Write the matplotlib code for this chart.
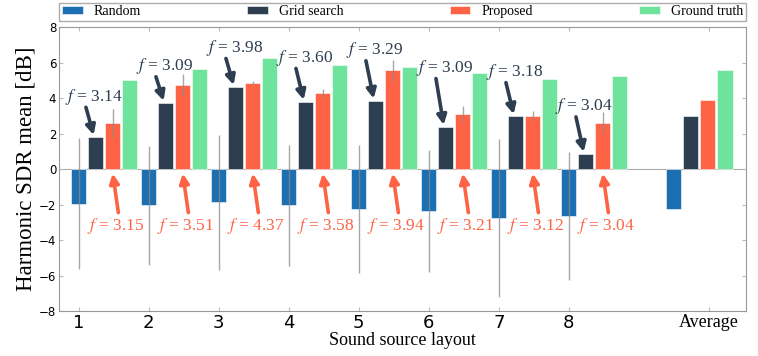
import matplotlib
matplotlib.use('Agg')
import matplotlib.pyplot as plt
import numpy as np

plt.rcParams['mathtext.fontset'] = 'stix'

# data
layouts = ['1', '2', '3', '4', '5', '6', '7', '8', 'Average']
methods = ['Random', 'Grid search', 'Proposed', 'Ground truth']

random_mean = [-1.96, -2.05, -1.86, -2.05, -2.23, -2.35, -2.74, -2.63, -2.23]
random_err = [3.69, 3.33, 3.80, 3.40, 3.60, 3.43, 4.45, 3.62, 0.0]
grid_mean = [1.80, 3.73, 4.62, 3.78, 3.85, 2.37, 2.97, 0.85, 3.00]
prop_mean = [2.59, 4.73, 4.84, 4.28, 5.57, 3.10, 3.01, 2.60, 3.87]
prop_err = [0.80, 0.62, 0.13, 0.22, 0.60, 0.46, 0.29, 0.62, 0.0]
truth_mean = [5.00, 5.66, 6.26, 5.85, 5.77, 5.42, 5.10, 5.26, 5.56]

grid_f = ['3.14', '3.09', '3.98', '3.60', '3.29', '3.09', '3.18', '3.04']
prop_f = ['3.15', '3.51', '4.37', '3.58', '3.94', '3.21', '3.12', '3.04']

# layout only: height of the grid-search labels
grid_label_y = [4.08, 5.80, 6.83, 6.27, 6.70, 5.70, 5.47, 3.54]

colors = ['#1c6fb0', '#2c3e50', '#fe6346', '#6ee39b']
navy = '#2c3e50'
red = '#fe6346'
serif = 'Liberation Serif'

x = np.array([1, 2, 3, 4, 5, 6, 7, 8, 9.5])
step = 0.243
width = 0.22

fig = plt.figure(figsize=(7.58, 3.56), dpi=100)
ax = fig.add_axes([0.078, 0.126, 0.906, 0.798])

ekw = dict(ecolor='#8a8a8a', elinewidth=1.0, capsize=0, alpha=0.75)
ax.bar(x, random_mean, width, color=colors[0], label=methods[0],
       yerr=random_err, error_kw=ekw, edgecolor='white', linewidth=0.4)
ax.bar(x + step, grid_mean, width, color=colors[1], label=methods[1],
       edgecolor='white', linewidth=0.4)
ax.bar(x + 2 * step, prop_mean, width, color=colors[2], label=methods[2],
       yerr=prop_err, error_kw=ekw, edgecolor='white', linewidth=0.4)
ax.bar(x + 3 * step, truth_mean, width, color=colors[3], label=methods[3],
       edgecolor='white', linewidth=0.4)

akw = dict(arrowstyle='-|>', lw=2.6, mutation_scale=14, shrinkA=0, shrinkB=0)

# grid search annotations (above bars)
for i in range(len(grid_f)):
    gx = x[i] + step
    ty = grid_label_y[i]
    ax.text(gx - 0.02, ty, '$f$ = ' + grid_f[i], color=navy, ha='center',
            va='center', fontsize=12.5, family=serif)
    ax.annotate('', xy=(gx - 0.03, grid_mean[i] + 0.12),
                xytext=(gx - 0.14, ty - 0.6),
                arrowprops=dict(color=navy, **akw))

# proposed annotations (below zero)
for i in range(len(prop_f)):
    px = x[i] + 2 * step
    ax.text(px + 0.04, -3.18, '$f$ = ' + prop_f[i], color=red, ha='center',
            va='center', fontsize=12.5, family=serif)
    ax.annotate('', xy=(px, -0.25), xytext=(px + 0.08, -2.45),
                arrowprops=dict(color=red, **akw))

ax.set_xlim(0.72, 10.53)
ax.set_ylim(-8, 8)
ax.set_yticks(np.arange(-8, 9, 2))
ax.set_xticks([1, 2, 3, 4, 5, 6, 7, 8, 10])
ax.set_xticklabels(layouts, fontsize=13)
ax.get_xticklabels()[-1].set_family(serif)
ax.tick_params(axis='y', labelsize=8.5, pad=2)
ax.tick_params(direction='in', top=True, right=True, length=3,
               color='#bbbbbb')
ax.tick_params(axis='x', pad=2)
for s in ax.spines.values():
    s.set_color('#999999')

ax.axhline(0, color='#aaaaaa', lw=0.8, zorder=0)

ax.set_xlabel('Sound source layout', family=serif, fontsize=13, labelpad=0)
ax.set_ylabel('Harmonic SDR mean [dB]', family=serif, fontsize=16.5,
              labelpad=2)

leg = ax.legend(loc='lower left', bbox_to_anchor=(0, 1.021, 1, 0.067),
                mode='expand', ncol=4, borderaxespad=0, fancybox=False,
                prop={'family': serif, 'size': 10}, handlelength=1.5,
                handleheight=0.5, borderpad=0.2)
leg.get_frame().set_edgecolor('#999999')
leg.get_frame().set_linewidth(1.0)

fig.savefig('out.png', dpi=100)
